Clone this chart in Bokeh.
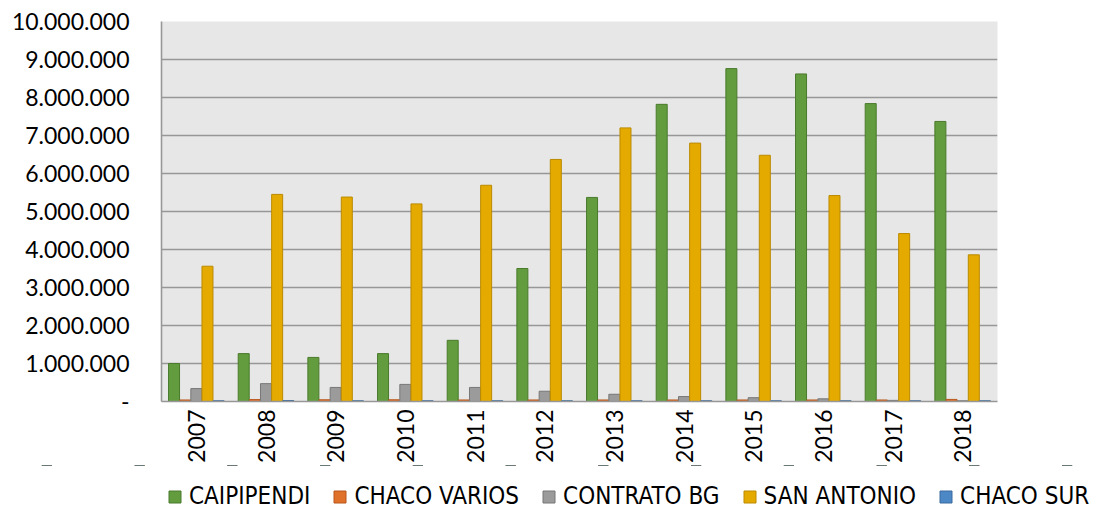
import math
from bokeh.plotting import figure
from bokeh.models import ColumnDataSource, FactorRange, Range1d, FixedTicker, Legend, LegendItem
from bokeh.transform import dodge
from bokeh.embed import file_html
from bokeh.resources import INLINE

years = ["2007", "2008", "2009", "2010", "2011", "2012", "2013", "2014", "2015", "2016", "2017", "2018"]
caipipendi = [1000000, 1260000, 1160000, 1260000, 1610000, 3500000, 5370000, 7820000, 8760000, 8620000, 7840000, 7370000]
chaco_varios = [40000, 50000, 45000, 45000, 40000, 40000, 40000, 40000, 40000, 40000, 40000, 55000]
contrato_bg = [340000, 470000, 370000, 450000, 370000, 270000, 190000, 130000, 100000, 70000, 30000, 20000]
san_antonio = [3560000, 5450000, 5380000, 5200000, 5690000, 6370000, 7200000, 6800000, 6480000, 5420000, 4420000, 3860000]
chaco_sur = [20000, 25000, 20000, 20000, 20000, 20000, 20000, 20000, 20000, 20000, 20000, 20000]

series_names = ["CAIPIPENDI", "CHACO VARIOS", "CONTRATO BG", "SAN ANTONIO", "CHACO SUR"]
y_ticks = [0, 1000000, 2000000, 3000000, 4000000, 5000000, 6000000, 7000000, 8000000, 9000000, 10000000]
y_tick_labels = ["-", "1.000.000", "2.000.000", "3.000.000", "4.000.000", "5.000.000",
                 "6.000.000", "7.000.000", "8.000.000", "9.000.000", "10.000.000"]

fills = ["#629c3e", "#e0712b", "#9b9b9b", "#e5aa00", "#4d88c6"]
edges = ["#4a7a2c", "#b8571c", "#777777", "#bb8a00", "#3a6a9e"]

source = ColumnDataSource(dict(year=years, s0=caipipendi, s1=chaco_varios, s2=contrato_bg,
                               s3=san_antonio, s4=chaco_sur))

# main chart
p = figure(x_range=FactorRange(*years), y_range=Range1d(0, 10000000),
           width=1113, height=465,
           min_border_left=161, min_border_right=116, min_border_top=21, min_border_bottom=64,
           output_backend="svg", toolbar_location=None, tools="")

p.background_fill_color = "#e7e7e7"
p.border_fill_color = "white"
p.outline_line_color = None

offsets = [-0.32, -0.16, 0.0, 0.16, 0.32]
for i, off in enumerate(offsets):
    p.vbar(x=dodge("year", off, range=p.x_range), top="s%d" % i, width=0.158, bottom=0,
           source=source, fill_color=fills[i], line_color=edges[i], line_width=1)

p.xgrid.grid_line_color = None
p.ygrid.grid_line_color = "#979797"
p.ygrid.grid_line_width = 1.6
p.yaxis.ticker = FixedTicker(ticks=y_ticks)
p.yaxis.major_label_overrides = {t: l for t, l in zip(y_ticks, y_tick_labels)}

for ax in (p.xaxis, p.yaxis):
    ax.axis_line_color = "#979797"
    ax.axis_line_width = 1.6
    ax.major_tick_line_color = None
    ax.minor_tick_line_color = None
    ax.major_tick_out = 0
    ax.major_tick_in = 0
    ax.major_label_text_font = "Lato"
    ax.major_label_text_font_size = "23px"
    ax.major_label_text_color = "black"

p.yaxis.major_label_standoff = 32
p.xaxis.major_label_standoff = 8
p.xaxis.major_label_orientation = math.pi / 2

# legend strip below the chart (separate root, no axes; bars kept far out of view)
lg = figure(width=1113, height=45, x_range=FactorRange(*years), y_range=Range1d(-3e8, -2e8),
            min_border=0, x_axis_location=None, y_axis_location=None,
            output_backend="svg", toolbar_location=None, tools="")
lg.grid.grid_line_color = None
lg.outline_line_color = None
lg.background_fill_color = "white"
lg.border_fill_color = "white"

leg_renderers = []
for i in range(len(series_names)):
    r = lg.vbar(x="year", top="s%d" % i, width=0.1, bottom=0, source=source,
                fill_color=fills[i], line_color=edges[i], line_width=1)
    leg_renderers.append(r)

legend = Legend(items=[LegendItem(label=n, renderers=[r]) for n, r in zip(series_names, leg_renderers)],
                orientation="horizontal", location=(167, 0),
                glyph_width=15, glyph_height=15, label_standoff=7, spacing=22,
                padding=0, margin=0, border_line_color=None, background_fill_alpha=0,
                label_text_font="DejaVu Sans Condensed",
                label_text_font_size="24px", label_text_color="black")
lg.add_layout(legend, "center")

open("out.html", "w").write(file_html([p, lg], INLINE))
